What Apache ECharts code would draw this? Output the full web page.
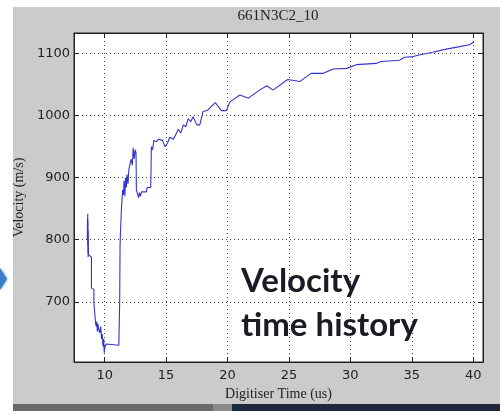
<!DOCTYPE html>
<html>
<head>
<meta charset="utf-8">
<script src="https://cdn.jsdelivr.net/npm/echarts@6/dist/echarts.min.js"></script>
<style>
  html, body { margin: 0; padding: 0; background: #ffffff; }
  #chart { width: 500px; height: 419px; }
</style>
</head>
<body>
<div id="chart"></div>
<script>
// Digitiser time (us) and measured velocity (m/s)
var timeUs = [
  8.58, 8.60, 8.61, 8.62, 8.63, 8.64, 8.65, 8.66, 8.68, 8.72, 8.92, 8.92,
  9.12, 9.12, 9.26, 9.26, 9.32, 9.36, 9.40, 9.45, 9.52, 9.60, 9.68, 9.74,
  9.80, 9.86, 9.92, 9.96, 10.00, 10.05, 10.12, 10.20, 11.15, 11.20, 11.22, 11.25,
  11.28, 11.32, 11.36, 11.42, 11.46, 11.52, 11.58, 11.64, 11.70, 11.76, 11.82, 11.90,
  11.96, 12.05, 12.15, 12.25, 12.32, 12.40, 12.48, 12.55, 12.58, 12.70, 12.76, 12.82,
  12.90, 13.00, 13.40, 13.45, 13.75, 13.80, 13.90, 14.00, 14.20, 14.40, 14.70, 14.90,
  15.10, 15.30, 15.60, 15.80, 16.00, 16.20, 16.40, 16.60, 16.80, 17.00, 17.20, 17.50,
  17.74, 18.00, 18.40, 19.00, 19.50, 19.90, 20.20, 21.00, 21.70, 22.60, 23.20, 23.70,
  24.90, 25.90, 26.80, 27.80, 28.60, 29.70, 30.50, 32.10, 32.50, 34.00, 34.40, 35.10,
  35.70, 36.70, 37.80, 38.90, 39.70, 40.07
];
var velocity = [
  800, 835, 790, 842, 778, 830, 772, 815, 776, 774, 772, 722,
  720, 698, 696, 665, 660, 668, 652, 664, 655, 650, 660, 640,
  648, 628, 640, 618, 625, 622, 632, 630, 630, 632, 700, 790,
  810, 812, 850, 848, 880, 872, 895, 870, 900, 884, 905, 890,
  912, 910, 930, 920, 948, 930, 945, 940, 880, 878, 868, 876,
  870, 877, 877, 884, 884, 950, 945, 960, 958, 962, 960, 950,
  955, 965, 962, 970, 978, 972, 985, 982, 995, 990, 998, 985,
  985, 1006, 1009, 1021, 1008, 1008, 1022, 1033, 1028, 1041, 1048, 1041,
  1058, 1055, 1068, 1068, 1075, 1076, 1082, 1084, 1087, 1089, 1094, 1095,
  1098, 1102, 1107, 1111, 1114, 1119
];

var plotTitle = '661N3C2_10';
var xTitle = 'Digitiser Time (us)';
var yTitle = 'Velocity (m/s)';
var noteText = 'Velocity\ntime history';

var xRange = [7.5, 40.8];
var yRange = [603, 1133];

var points = timeUs.map(function (t, i) { return [t, velocity[i]]; });

var gridLine = { show: true, lineStyle: { color: '#444', width: 1, type: [1, 3] } };
var tickFont = { color: '#222', fontFamily: 'DejaVu Sans', fontSize: 13 };
var plainNumber = function (v) { return String(v); };

var chart = echarts.init(document.getElementById('chart'), null, { renderer: 'canvas' });
chart.setOption({
  backgroundColor: '#ffffff',
  animation: false,
  grid: {
    left: 74, right: 17, top: 33, bottom: 57,
    show: true, backgroundColor: '#ffffff', borderColor: '#222', borderWidth: 1
  },
  xAxis: [{
    type: 'value', min: xRange[0], max: xRange[1], position: 'bottom',
    axisLine: { show: true, onZero: false, lineStyle: { color: '#222' } },
    axisTick: { show: true, inside: true, length: 5, lineStyle: { color: '#222' } },
    axisLabel: Object.assign({ margin: 7, showMinLabel: false, showMaxLabel: false, formatter: plainNumber }, tickFont),
    splitLine: gridLine,
    name: xTitle, nameLocation: 'middle', nameGap: 25,
    nameTextStyle: { fontFamily: 'Liberation Serif', fontSize: 14, color: '#222' }
  }, {
    type: 'value', min: xRange[0], max: xRange[1], position: 'top',
    axisLine: { show: true, onZero: false, lineStyle: { color: '#222' } },
    axisTick: { show: true, inside: true, length: 5, lineStyle: { color: '#222' } },
    axisLabel: { show: false }, splitLine: { show: false }
  }],
  yAxis: [{
    type: 'value', min: yRange[0], max: yRange[1], position: 'left',
    axisLine: { show: true, onZero: false, lineStyle: { color: '#222' } },
    axisTick: { show: true, inside: true, length: 5, lineStyle: { color: '#222' } },
    axisLabel: Object.assign({ margin: 4, showMinLabel: false, showMaxLabel: false, formatter: plainNumber }, tickFont),
    splitLine: gridLine,
    name: yTitle, nameLocation: 'middle', nameGap: 46, nameRotate: 90,
    nameTextStyle: { fontFamily: 'Liberation Serif', fontSize: 14, color: '#222' }
  }, {
    type: 'value', min: yRange[0], max: yRange[1], position: 'right',
    axisLine: { show: true, onZero: false, lineStyle: { color: '#222' } },
    axisTick: { show: true, inside: true, length: 5, lineStyle: { color: '#222' } },
    axisLabel: { show: false }, splitLine: { show: false }
  }],
  series: [{
    type: 'line', xAxisIndex: 0, yAxisIndex: 0,
    data: points, showSymbol: false, symbol: 'none',
    lineStyle: { color: '#3434cc', width: 1.1 },
    z: 5
  }],
  graphic: [
    // figure panel and the strip beneath it
    { type: 'rect', z: -100, shape: { x: 13, y: 7, width: 487, height: 397 }, style: { fill: '#cbcbcb' } },
    { type: 'rect', z: -99, shape: { x: 13, y: 404, width: 200, height: 7 }, style: { fill: '#6a6a6a' } },
    { type: 'rect', z: -99, shape: { x: 213, y: 404, width: 19, height: 7 }, style: { fill: '#8a8a8a' } },
    { type: 'rect', z: -99, shape: { x: 232, y: 404, width: 268, height: 7 }, style: { fill: '#1c2a3c' } },
    // arrow tip at the left edge
    { type: 'polygon', z: -98, shape: { points: [[0, 268], [7, 279], [0, 290]] },
      style: { fill: '#3d7cc9', shadowBlur: 3, shadowColor: '#3d7cc9' } },
    // plot title
    { type: 'text', z: 10, x: 278, y: 16,
      style: { text: plotTitle, font: '15px "Liberation Serif"', fill: '#222', align: 'center', verticalAlign: 'middle' } },
    // annotation
    { type: 'text', z: 100, x: 241, y: 259,
      style: { text: noteText, font: 'bold 33px Lato', fill: '#1b1b26', lineHeight: 44 } }
  ]
});
</script>
</body>
</html>
